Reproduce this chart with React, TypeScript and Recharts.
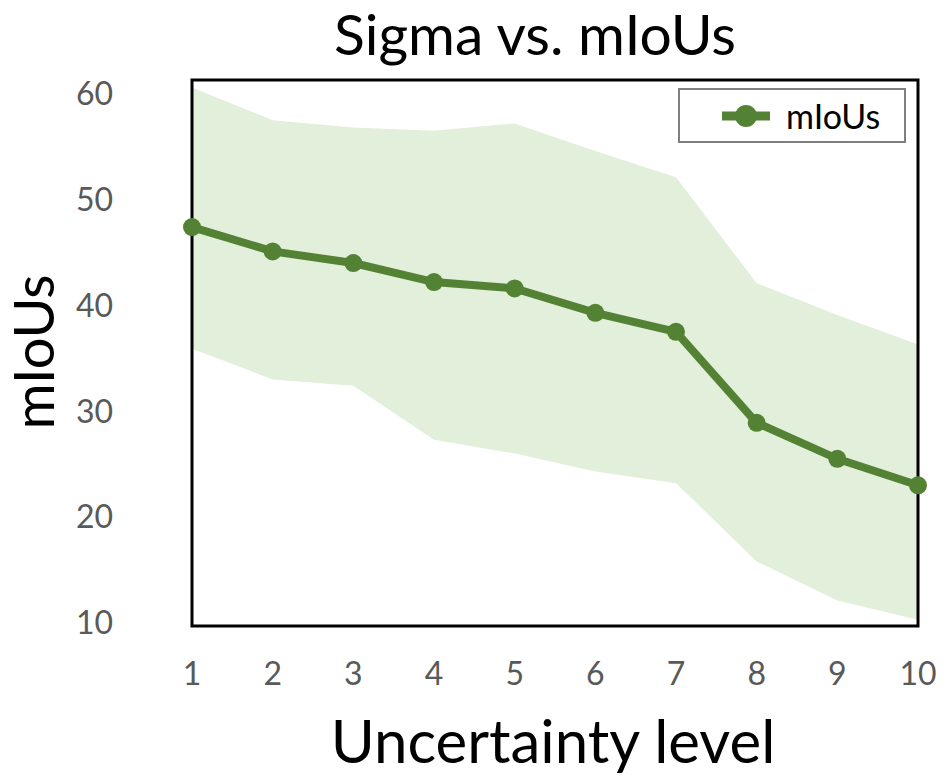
import React from 'react';
import { ComposedChart, Area, Line, XAxis, YAxis, ReferenceArea, Label } from 'recharts';

const levels = [1, 2, 3, 4, 5, 6, 7, 8, 9, 10];
const meanValues = [47.4, 45.1, 44.0, 42.2, 41.6, 39.3, 37.5, 28.9, 25.5, 23.0];
const upperValues = [60.6, 57.5, 56.8, 56.5, 57.2, 54.6, 52.1, 42.1, 39.1, 36.3];
const lowerValues = [35.9, 33.0, 32.4, 27.3, 26.0, 24.3, 23.2, 15.8, 12.1, 10.3];
const yTicks = [10, 20, 30, 40, 50, 60];

const data = levels.map((lv, i) => ({
  level: lv,
  mIoUs: meanValues[i],
  band: [lowerValues[i], upperValues[i]],
}));

const GREEN = '#548235';
const FONT = 'Lato, "Open Sans", sans-serif';

const LegendBox = () => (
  <div
    style={{
      position: 'absolute',
      left: 678,
      top: 88,
      width: 224,
      height: 51,
      border: '2px solid #7f7f7f',
      background: '#fff',
      display: 'flex',
      alignItems: 'center',
      fontFamily: FONT,
      fontSize: 34,
      color: '#000',
      boxSizing: 'content-box',
    }}
  >
    <svg width={48} height={24} style={{ marginLeft: 42, marginRight: 16 }}>
      <line x1={0} y1={12} x2={48} y2={12} stroke={GREEN} strokeWidth={9} />
      <circle cx={24} cy={12} r={11} fill={GREEN} />
    </svg>
    <span>mIoUs</span>
  </div>
);

export default function App() {
  return (
    <div style={{ position: 'absolute', left: 0, top: 0, width: 949, height: 781, background: '#fff' }}>
      <ComposedChart
        width={949}
        height={781}
        data={data}
        margin={{ top: 80, right: 31, bottom: 105, left: 132 }}
      >
        <text x={535} y={55} textAnchor="middle" fontFamily={FONT} fontSize={57} fill="#000">
          Sigma vs. mIoUs
        </text>
        <XAxis
          dataKey="level"
          type="number"
          domain={[1, 10]}
          ticks={levels}
          height={50}
          tickLine={false}
          axisLine={false}
          tickSize={0}
          tickMargin={36}
          tick={{ fill: '#595959', fontSize: 32, fontFamily: FONT }}
          interval={0}
        >
          <Label
            content={() => (
              <text x={553} y={763} textAnchor="middle" fontFamily={FONT} fontSize={60} fill="#000">
                Uncertainty level
              </text>
            )}
          />
        </XAxis>
        <YAxis
          type="number"
          domain={[9.7, 61.3]}
          ticks={yTicks}
          width={60}
          tickLine={false}
          axisLine={false}
          tickSize={0}
          tickMargin={79}
          allowDataOverflow
          tick={{ fill: '#595959', fontSize: 32, fontFamily: FONT }}
          interval={0}
        >
          <Label
            content={() => (
              <text
                x={54}
                y={352}
                textAnchor="middle"
                fontFamily={FONT}
                fontSize={56}
                fill="#000"
                transform="rotate(-90 54 352)"
              >
                mIoUs
              </text>
            )}
          />
        </YAxis>
        <Area
          dataKey="band"
          type="linear"
          stroke="none"
          fill="#e2efda"
          fillOpacity={1}
          isAnimationActive={false}
          legendType="none"
          activeDot={false}
        />
        <Line
          dataKey="mIoUs"
          type="linear"
          stroke={GREEN}
          strokeWidth={8}
          dot={{ r: 9, fill: GREEN, stroke: GREEN, strokeWidth: 0 }}
          activeDot={false}
          isAnimationActive={false}
        />
        <ReferenceArea
          x1={1}
          x2={10}
          y1={9.7}
          y2={61.3}
          fill="none"
          stroke="#000"
          strokeWidth={3}
          ifOverflow="visible"
        />
      </ComposedChart>
      <LegendBox />
    </div>
  );
}
